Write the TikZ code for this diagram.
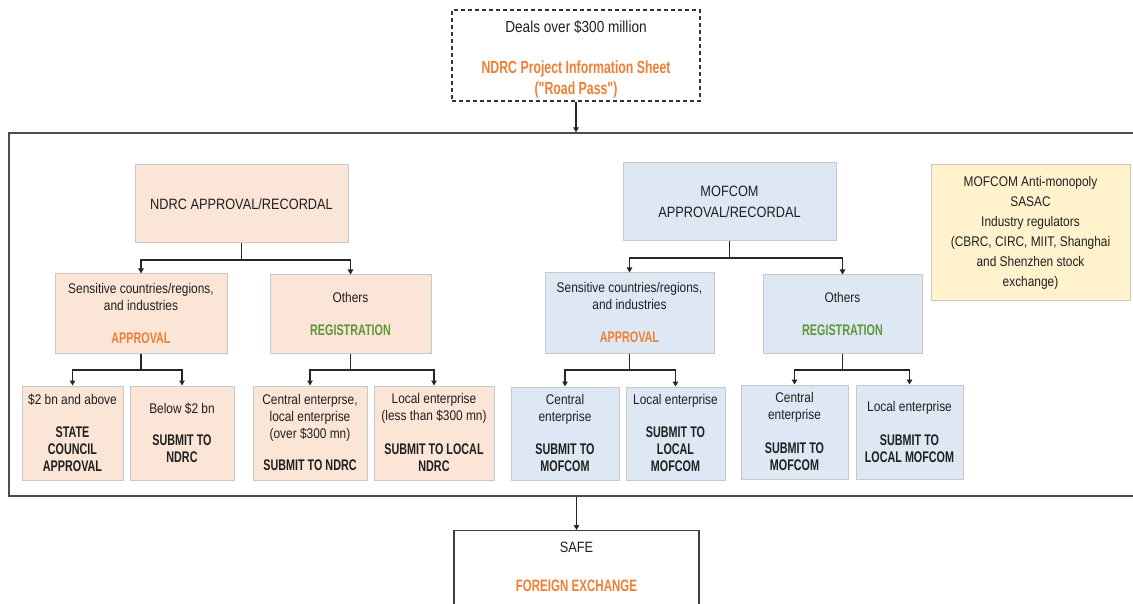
\documentclass[tikz,border=0pt]{standalone}
\usepackage{fontspec}
\setmainfont{Liberation Sans}[FakeStretch=0.85]
\newfontfamily\condbf{Liberation Sans}[FakeStretch=0.7, Scale=1.1]
\usepackage{xcolor}
\usepackage{tikz}
\usetikzlibrary{positioning, arrows.meta}
\definecolor{NdrcFill}{HTML}{FBE5D6}
\definecolor{MofFill}{HTML}{DDE8F4}
\definecolor{RegFill}{HTML}{FFF2CC}
\definecolor{BoxLine}{HTML}{C8C8C8}
\definecolor{TxtOrange}{HTML}{EF7F33}
\definecolor{TxtGreen}{HTML}{5F9639}
\newcommand\hd[1]{{\condbf\bfseries #1}}
\newcommand\ho[1]{\textcolor{TxtOrange}{\hd{#1}}}
\newcommand\hg[1]{\textcolor{TxtGreen}{\hd{#1}}}
\tikzset{
  box/.style={draw=BoxLine, line width=1pt, align=center, inner sep=0pt, text=black!88,
    font=\fontsize{14}{17}\selectfont},
  ndbox/.style={box, fill=NdrcFill},
  mfbox/.style={box, fill=MofFill},
  headbox/.style={font=\fontsize{15}{21}\selectfont, minimum width=213pt, minimum height=78pt},
  frame/.style={draw=black!70, line width=1.4pt, inner sep=0pt},
  arr/.style={-{Triangle[length=5pt,width=5.5pt]}, line width=1.2pt, black!85},
}

\begin{document}
\begin{tikzpicture}[x=1pt, y=-1pt]
  \useasboundingbox (0,0) rectangle (1133,604);
  % outer frame, open to the right
  \node[frame, minimum width=1138pt, minimum height=363pt] (frm) at (578,314.5) {};
  \node[box, draw=black!80, line width=1.2pt, dash pattern=on 4pt off 3pt,
    minimum width=248pt, minimum height=91pt, font=\fontsize{16}{21}\selectfont] (top) at (576,55.5)
    {\rule{0pt}{20pt}Deals over \$300 million\\[20pt]\ho{NDRC Project Information Sheet}\\\ho{("Road Pass")}};
  \node[box, draw=black!75, line width=1.3pt, anchor=north, minimum width=245pt,
    inner ysep=11pt, text depth=70pt, font=\fontsize{15}{20}\selectfont] (safe) at (576.5,530)
    {SAFE\\[19pt]\ho{FOREIGN EXCHANGE}};
  % NDRC side
  \node[ndbox, headbox] (nd) at (241.5,204) {NDRC APPROVAL/RECORDAL};
  \node[ndbox, minimum width=172pt, minimum height=79pt] (ndS) at (141,313.5)
    {Sensitive countries/regions,\\and industries\\[16pt]\ho{APPROVAL}};
  \node[ndbox, minimum width=161pt, minimum height=78pt] (ndO) at (350.5,314)
    {Others\\[16pt]\hg{REGISTRATION}};
  \node[ndbox, minimum width=101pt, minimum height=94pt] (nd1) at (72.5,433)
    {\$2 bn and above\\[16pt]\hd{STATE}\\\hd{COUNCIL}\\\hd{APPROVAL}};
  \node[ndbox, minimum width=104pt, minimum height=94pt] (nd2) at (182,433)
    {Below \$2 bn\\[15pt]\hd{SUBMIT TO}\\\hd{NDRC}};
  \node[ndbox, minimum width=114pt, minimum height=94pt] (nd3) at (310,433)
    {Central enterprse,\\local enterprise\\(over \$300 mn)\\[15pt]\hd{SUBMIT TO NDRC}};
  \node[ndbox, minimum width=120pt, minimum height=94pt] (nd4) at (434,433)
    {Local enterprise\\(less than \$300 mn)\\[17pt]\hd{SUBMIT TO LOCAL}\\\hd{NDRC}};
  % MOFCOM side
  \node[mfbox, headbox] (mf) at (729.5,202) {MOFCOM\\APPROVAL/RECORDAL};
  \node[mfbox, minimum width=169pt, minimum height=80pt] (mfS) at (629.5,313)
    {Sensitive countries/regions,\\and industries\\[16pt]\ho{APPROVAL}};
  \node[mfbox, minimum width=159pt, minimum height=78pt] (mfO) at (842.5,314)
    {Others\\[16pt]\hg{REGISTRATION}};
  \node[mfbox, minimum width=108pt, minimum height=93pt] (mf1) at (565,433.5)
    {Central\\enterprise\\[16pt]\hd{SUBMIT TO}\\\hd{MOFCOM}};
  \node[mfbox, minimum width=99pt, minimum height=93pt] (mf2) at (675.5,433.5)
    {Local enterprise\\[16pt]\hd{SUBMIT TO}\\\hd{LOCAL}\\\hd{MOFCOM}};
  \node[mfbox, minimum width=107pt, minimum height=94pt] (mf3) at (794.5,432)
    {Central\\enterprise\\[17pt]\hd{SUBMIT TO}\\\hd{MOFCOM}};
  \node[mfbox, minimum width=107pt, minimum height=94pt] (mf4) at (909.5,432)
    {Local enterprise\\[17pt]\hd{SUBMIT TO}\\\hd{LOCAL MOFCOM}};
  \node[box, fill=RegFill, minimum width=199pt, minimum height=135pt,
    font=\fontsize{14}{20}\selectfont] (reg) at (1030.5,232.5)
    {MOFCOM Anti-monopoly\\SASAC\\Industry regulators\\(CBRC, CIRC, MIIT, Shanghai\\and Shenzhen stock\\exchange)};
  % connectors
  \draw[arr] (top.south) -- (top.south |- frm.north);
  \draw[arr] (frm.south -| safe.north) -- (safe.north);
  \foreach \p/\a/\b in {nd/ndS/ndO, ndS/nd1/nd2, ndO/nd3/nd4, mf/mfS/mfO, mfS/mf1/mf2, mfO/mf3/mf4} {
    \draw[arr] (\p.south) -- ++(0,16.5) -| (\a.north);
    \draw[arr] (\p.south) ++(0,16.5) -| (\b.north);
  }
\end{tikzpicture}
\end{document}
